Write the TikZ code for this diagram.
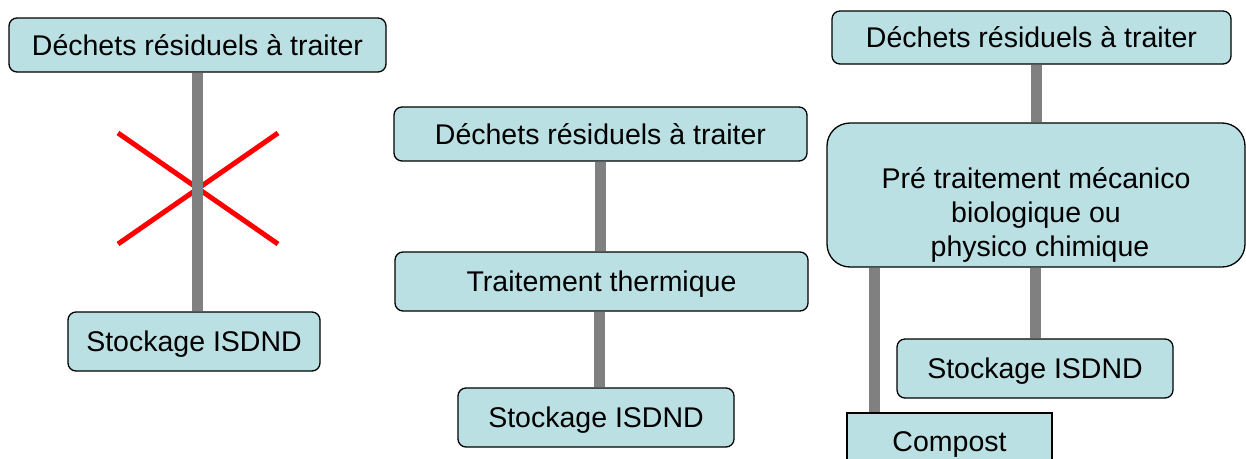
\documentclass[tikz,border=0pt]{standalone}
\usepackage{fontspec}
\setmainfont{Liberation Sans}
\usetikzlibrary{backgrounds}
\definecolor{boxfill}{RGB}{187,224,227}
\definecolor{bargrey}{RGB}{128,128,128}
\begin{document}
\begin{tikzpicture}[x=1pt,y=-1pt,
  box/.style={draw=black,line width=1.3pt,fill=boxfill,rounded corners=8pt,inner sep=0pt,
    text height=20.4pt,text depth=0pt,font=\fontsize{28.5}{34}\selectfont},
  bigbox/.style={draw=black,line width=1.3pt,fill=boxfill,rounded corners=23pt,inner sep=0pt},
  sqbox/.style={draw=black,line width=1.3pt,fill=boxfill,inner sep=0pt},
  bar/.style={draw=bargrey,line width=11pt,line cap=butt},
  cross/.style={draw=red,line width=5pt}]
\clip (0,0) rectangle (1246,458);
% left column
\node[box,minimum width=377pt,minimum height=54pt] (L1) at (197.5,45) {Déchets résiduels à traiter};
\node[box,minimum width=252pt,minimum height=59pt] (L2) at (194,341.5) {Stockage ISDND};
\coordinate (xa) at (118,133);
\coordinate (xb) at (278,244);
\coordinate (xc) at (278,133);
\coordinate (xd) at (118,244);
% middle column
\node[box,minimum width=413pt,minimum height=54pt] (M1) at (600.5,134) {Déchets résiduels à traiter};
\node[box,minimum width=413pt,minimum height=59pt] (M2) at (601.5,281.5) {Traitement thermique};
\node[box,minimum width=276pt,minimum height=59pt] (M3) at (596,417.5) {Stockage ISDND};
% right column
\node[box,minimum width=399pt,minimum height=53pt] (R1) at (1031.5,37.5) {Déchets résiduels à traiter};
\node[bigbox,minimum width=418pt,minimum height=144pt] (R2) at (1036,195) {};
\node[align=center,inner sep=0pt,font=\fontsize{28.5}{34}\selectfont] (R2t) at (1036,214.6)
  {Pré traitement mécanico\\biologique ou\\\ physico chimique};
\node[box,minimum width=276pt,minimum height=59pt] (R3) at (1035,368.5) {Stockage ISDND};
\node[sqbox,minimum width=205pt,minimum height=57pt,text height=20.4pt,text depth=0pt,
  font=\fontsize{28.5}{34}\selectfont] (R4) at (949.5,441.5) {Compost};
\begin{scope}[on background layer]
  \draw[cross] (xa) -- (xb);
  \draw[cross] (xc) -- (xd);
  \draw[bar] (L1.south) -- (L1.south |- L2.north);
  \draw[bar] (M1.south) -- (M1.south |- M2.north);
  \draw[bar] ([xshift=-2.5pt]M2.south) -- ([xshift=-2.5pt]M2.south |- M3.north);
  \draw[bar] (R2.north) -- (R2.north |- R1.south);
  \draw[bar] (R3.north |- R2.south) -- (R3.north);
  \draw[bar] ([xshift=28pt]R4.north west) -- ([xshift=28pt]R4.north west |- R2.south);
\end{scope}
\end{tikzpicture}
\end{document}
